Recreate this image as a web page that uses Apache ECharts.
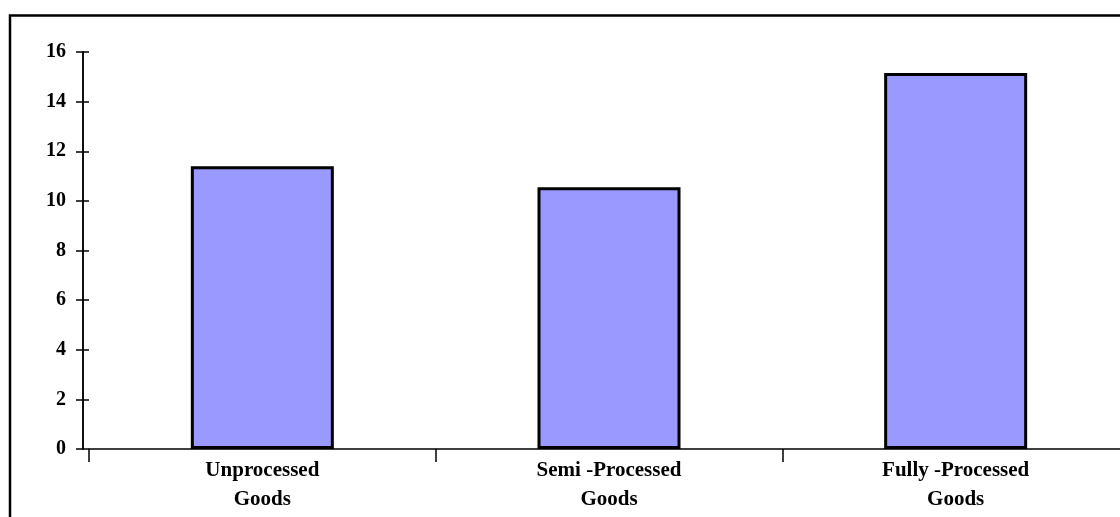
<!DOCTYPE html>
<html>
<head>
<meta charset="utf-8">
<script src="https://cdn.jsdelivr.net/npm/echarts@6/dist/echarts.min.js"></script>
<style>
  html, body { margin: 0; padding: 0; background: #fff; }
  #chart { width: 1120px; height: 517px; }
</style>
</head>
<body>
<div id="chart"></div>
<script>
// Goods categories and their values
const categories = ['Unprocessed\nGoods', 'Semi -Processed\nGoods', 'Fully -Processed\nGoods'];
const values = [11.4, 10.55, 15.15];
const yTicks = { min: 0, max: 16, interval: 2 };

const chart = echarts.init(document.getElementById('chart'), null, { renderer: 'canvas' });

const serif = '"Liberation Serif", "DejaVu Serif", serif';

const baseY = {
  type: 'value',
  min: yTicks.min,
  max: yTicks.max,
  interval: yTicks.interval,
  position: 'left',
  offset: 6,
  splitLine: { show: false },
  axisLine: { show: true, lineStyle: { color: '#000', width: 1.5 } }
};

chart.setOption({
  animation: false,
  backgroundColor: '#fff',
  // plot area runs a little past the right edge of the canvas
  grid: {
    left: 89, width: 1040, top: 52, bottom: 68,
    containLabel: false,
    outerBoundsMode: 'none'
  },
  graphic: [{
    type: 'rect',
    shape: { x: 10, y: 15.5, width: 1130, height: 520 },
    style: { fill: 'none', stroke: '#000', lineWidth: 2.5 },
    z: 0
  }],
  xAxis: {
    type: 'category',
    data: categories,
    axisLine: { show: true, lineStyle: { color: '#000', width: 1.5 } },
    axisTick: { show: true, length: 13, lineStyle: { color: '#000', width: 1.5 } },
    axisLabel: {
      color: '#000',
      fontFamily: serif,
      fontWeight: 'bold',
      fontSize: 21,
      lineHeight: 29,
      margin: 7
    }
  },
  yAxis: [
    Object.assign({}, baseY, {
      axisTick: { show: true, length: 7, lineStyle: { color: '#000', width: 1.5 } },
      axisLabel: {
        color: '#000',
        fontFamily: serif,
        fontWeight: 'bold',
        fontSize: 20,
        margin: 17
      }
    }),
    Object.assign({}, baseY, {
      axisTick: { show: true, inside: true, length: 6, lineStyle: { color: '#000', width: 1.5 } },
      axisLabel: { show: false }
    })
  ],
  series: [{
    type: 'bar',
    data: values,
    yAxisIndex: 0,
    barWidth: 143,
    itemStyle: {
      color: '#9999ff',
      borderColor: '#000',
      borderWidth: 3
    }
  }]
});
</script>
</body>
</html>
